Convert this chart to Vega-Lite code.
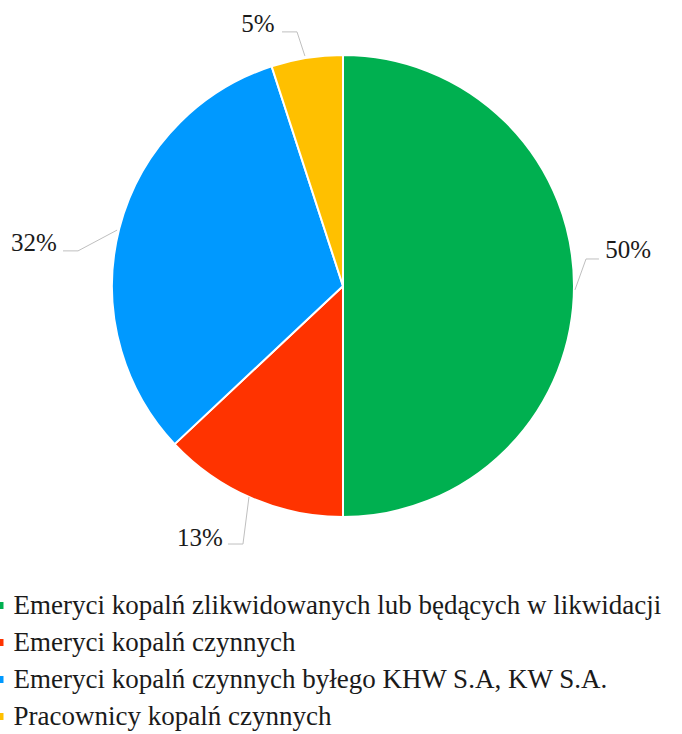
{
  "$schema": "https://vega.github.io/schema/vega-lite/v6.json",
  "autosize": {"type": "none"},
  "width": 678,
  "height": 572,
  "padding": {"left": 4, "top": 0, "right": 0, "bottom": 162},
  "background": "white",
  "config": {
    "view": {"stroke": null},
    "font": "Liberation Serif, serif"
  },
  "datasets": {
    "shares": [
      {"idx": 1, "group": "Emeryci kopalń zlikwidowanych lub będących w likwidacji", "share": 50},
      {"idx": 2, "group": "Emeryci kopalń czynnych", "share": 13},
      {"idx": 3, "group": "Emeryci kopalń czynnych byłego KHW S.A, KW S.A.", "share": 32},
      {"idx": 4, "group": "Pracownicy kopalń czynnych", "share": 5}
    ],
    "labels": [
      {"label": "50%", "x": 123.4, "y": 15.6},
      {"label": "13%", "x": -61.9, "y": -109.1},
      {"label": "32%", "x": -133.8, "y": 18.6},
      {"label": "5%", "x": -36.8, "y": 113.4}
    ],
    "leaders": [
      {"seg": "50%", "i": 1, "x": 110.8, "y": 11.7},
      {"seg": "50%", "i": 2, "x": 105.2, "y": 11.7},
      {"seg": "50%", "i": 3, "x": 100.4, "y": -1.7},
      {"seg": "13%", "i": 1, "x": -49.8, "y": -111.7},
      {"seg": "13%", "i": 2, "x": -43.3, "y": -111.7},
      {"seg": "13%", "i": 3, "x": -40.7, "y": -91.3},
      {"seg": "32%", "i": 1, "x": -121.2, "y": 15.2},
      {"seg": "32%", "i": 2, "x": -114.7, "y": 15.2},
      {"seg": "32%", "i": 3, "x": -97.8, "y": 24.2},
      {"seg": "5%", "i": 1, "x": -26.4, "y": 110.0},
      {"seg": "5%", "i": 2, "x": -19.9, "y": 110.0},
      {"seg": "5%", "i": 3, "x": -16.5, "y": 99.6}
    ]
  },
  "layer": [
    {
      "data": {"name": "shares"},
      "mark": {"type": "arc", "outerRadius": 231, "stroke": "white", "strokeWidth": 2},
      "encoding": {
        "theta": {"field": "share", "type": "quantitative", "stack": true},
        "order": {"field": "idx", "type": "quantitative"},
        "color": {
          "field": "group",
          "type": "nominal",
          "sort": null,
          "scale": {
            "domain": [
              "Emeryci kopalń zlikwidowanych lub będących w likwidacji",
              "Emeryci kopalń czynnych",
              "Emeryci kopalń czynnych byłego KHW S.A, KW S.A.",
              "Pracownicy kopalń czynnych"
            ],
            "range": ["#00B050", "#FF3300", "#0099FF", "#FFC000"]
          },
          "legend": {
            "title": null,
            "orient": "none",
            "legendX": -17.5,
            "legendY": 592,
            "direction": "vertical",
            "padding": 0,
            "symbolType": "square",
            "symbolSize": 49,
            "symbolStrokeWidth": 0,
            "labelFont": "Liberation Serif, serif",
            "labelFontSize": 27,
            "labelColor": "#1a1a1a",
            "labelOffset": 0,
            "labelLimit": 0,
            "rowPadding": 9
          }
        }
      }
    },
    {
      "data": {"name": "leaders"},
      "mark": {"type": "line", "stroke": "#BFBFBF", "strokeWidth": 1},
      "encoding": {
        "x": {"field": "x", "type": "quantitative", "scale": {"domain": [-146.75, 146.75], "nice": false, "zero": false}, "axis": null},
        "y": {"field": "y", "type": "quantitative", "scale": {"domain": [-123.81, 123.81], "nice": false, "zero": false}, "axis": null},
        "detail": {"field": "seg"},
        "order": {"field": "i", "type": "quantitative"}
      }
    },
    {
      "data": {"name": "labels"},
      "mark": {"type": "text", "font": "Liberation Serif, serif", "fontSize": 25, "color": "#1a1a1a", "align": "center", "baseline": "middle"},
      "encoding": {
        "x": {"field": "x", "type": "quantitative", "scale": {"domain": [-146.75, 146.75], "nice": false, "zero": false}, "axis": null},
        "y": {"field": "y", "type": "quantitative", "scale": {"domain": [-123.81, 123.81], "nice": false, "zero": false}, "axis": null},
        "text": {"field": "label"}
      }
    }
  ]
}
